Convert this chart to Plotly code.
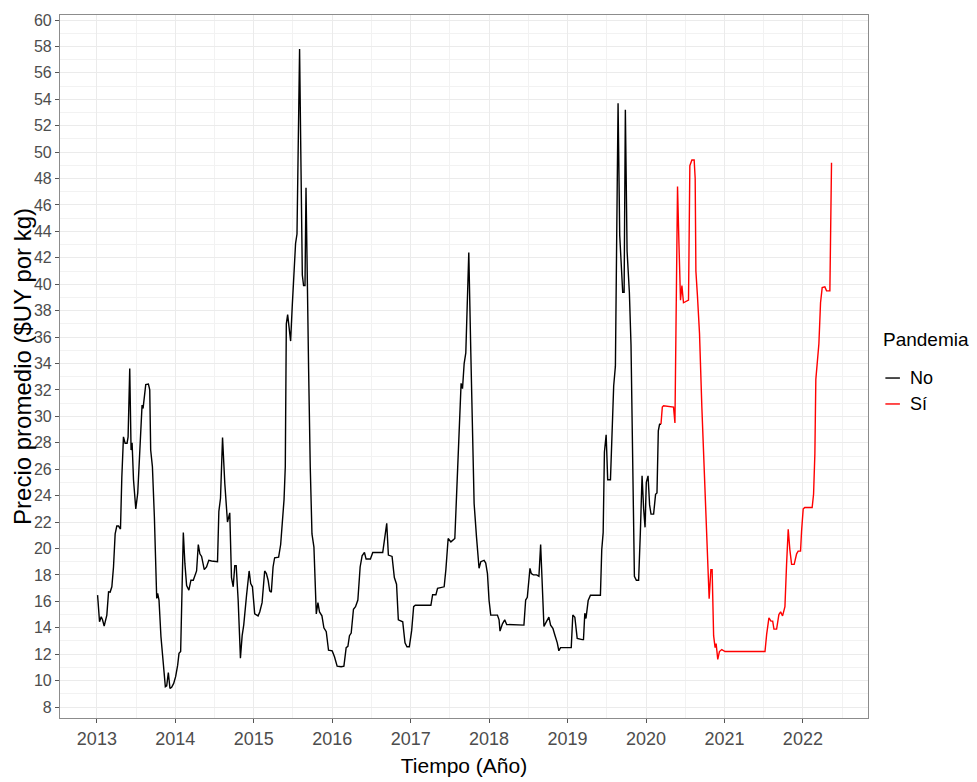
import plotly.graph_objects as go

# Decimal years and average price ($UY per kg)
anio_no = [2013.009, 2013.034, 2013.055, 2013.072, 2013.093, 2013.127, 2013.149, 2013.169, 2013.191, 2013.212,
           2013.233, 2013.254, 2013.276, 2013.301, 2013.318, 2013.339, 2013.360, 2013.385, 2013.398, 2013.419,
           2013.436, 2013.449, 2013.467, 2013.496, 2013.521, 2013.543, 2013.563, 2013.576, 2013.589, 2013.606,
           2013.623, 2013.657, 2013.674, 2013.686, 2013.708, 2013.733, 2013.763, 2013.775, 2013.792, 2013.817,
           2013.848, 2013.873, 2013.890, 2013.911, 2013.932, 2013.953, 2013.979, 2014.004, 2014.030, 2014.047,
           2014.068, 2014.081, 2014.102, 2014.122, 2014.144, 2014.173, 2014.199, 2014.229, 2014.258, 2014.271,
           2014.293, 2014.313, 2014.335, 2014.369, 2014.398, 2014.427, 2014.462, 2014.538, 2014.555, 2014.576,
           2014.602, 2014.631, 2014.665, 2014.694, 2014.716, 2014.738, 2014.758, 2014.776, 2014.801, 2014.830,
           2014.852, 2014.872, 2014.907, 2014.941, 2014.961, 2014.983, 2015.012, 2015.055, 2015.076, 2015.106,
           2015.139, 2015.161, 2015.183, 2015.203, 2015.224, 2015.246, 2015.266, 2015.317, 2015.343, 2015.361,
           2015.386, 2015.402, 2015.415, 2015.432, 2015.453, 2015.470, 2015.491, 2015.513, 2015.533, 2015.551,
           2015.568, 2015.584, 2015.602, 2015.619, 2015.635, 2015.653, 2015.666, 2015.682, 2015.699, 2015.720,
           2015.742, 2015.767, 2015.784, 2015.797, 2015.818, 2015.838, 2015.869, 2015.894, 2015.924, 2015.953,
           2016.000, 2016.029, 2016.063, 2016.114, 2016.149, 2016.178, 2016.200, 2016.220, 2016.242, 2016.271,
           2016.297, 2016.327, 2016.356, 2016.381, 2016.411, 2016.432, 2016.487, 2016.517, 2016.644, 2016.665,
           2016.695, 2016.716, 2016.763, 2016.792, 2016.820, 2016.843, 2016.899, 2016.928, 2016.953, 2016.983,
           2017.013, 2017.038, 2017.059, 2017.258, 2017.280, 2017.322, 2017.343, 2017.427, 2017.449, 2017.478,
           2017.513, 2017.563, 2017.589, 2017.618, 2017.643, 2017.661, 2017.682, 2017.703, 2017.716, 2017.741,
           2017.767, 2017.788, 2017.809, 2017.839, 2017.872, 2017.894, 2017.936, 2017.957, 2017.979, 2017.999,
           2018.021, 2018.106, 2018.127, 2018.139, 2018.170, 2018.199, 2018.224, 2018.444, 2018.466, 2018.487,
           2018.521, 2018.538, 2018.564, 2018.606, 2018.635, 2018.657, 2018.678, 2018.699, 2018.729, 2018.762,
           2018.784, 2018.813, 2018.838, 2018.869, 2018.889, 2018.911, 2019.047, 2019.067, 2019.093, 2019.123,
           2019.187, 2019.203, 2019.220, 2019.235, 2019.263, 2019.292, 2019.419, 2019.436, 2019.454, 2019.470,
           2019.492, 2019.512, 2019.547, 2019.568, 2019.588, 2019.610, 2019.627, 2019.644, 2019.665, 2019.686,
           2019.703, 2019.721, 2019.737, 2019.759, 2019.788, 2019.809, 2019.830, 2019.852, 2019.877, 2019.906,
           2019.928, 2019.950, 2019.970, 2019.988, 2020.004, 2020.026, 2020.046, 2020.064, 2020.097, 2020.122,
           2020.140, 2020.157, 2020.173, 2020.191]
precio_no = [16.47, 14.45, 14.83, 14.6, 14.12, 14.96, 16.72, 16.7, 17.1, 18.6,
             21.1, 21.7, 21.7, 21.47, 25.4, 28.45, 27.97, 27.97, 28.45, 33.63,
             27.45, 28.0, 25.2, 23.0, 24.2, 26.9, 29.7, 30.85, 30.6, 31.74,
             32.4, 32.45, 32.0, 27.45, 26.2, 22.4, 16.22, 16.6, 16.1, 13.32,
             11.05, 9.53, 9.6, 10.6, 9.4, 9.5, 9.79, 10.3, 11.17, 12.06,
             12.2, 16.1, 21.2, 18.87, 17.2, 16.85, 17.6, 17.6, 18.1, 18.3,
             20.3, 19.6, 19.4, 18.4, 18.6, 19.1, 19.05, 19.0, 22.8, 23.8,
             28.4, 24.9, 22.0, 22.7, 17.8, 17.1, 18.7, 18.7, 16.1, 11.7,
             13.4, 14.2, 16.4, 18.3, 17.35, 17.1, 15.05, 14.9, 15.2, 15.9,
             18.3, 18.1, 17.6, 16.8, 16.7, 18.6, 19.3, 19.35, 20.3, 22.0,
             23.7, 26.2, 37.0, 37.7, 36.7, 35.7, 38.4, 41.4, 43.1, 43.8,
             49.9, 57.8, 48.85, 40.7, 39.9, 39.9, 47.3, 38.0, 33.6, 26.2,
             21.1, 20.1, 17.8, 15.05, 15.9, 15.2, 14.9, 14.0, 13.7, 12.3,
             12.25, 11.8, 11.1, 11.05, 11.1, 12.5, 12.6, 13.4, 13.6, 15.4,
             15.6, 16.1, 18.6, 19.45, 19.7, 19.2, 19.2, 19.7, 19.7, 20.5,
             21.9, 19.5, 19.4, 17.8, 17.3, 14.6, 14.45, 12.86, 12.56, 12.56,
             13.8, 15.6, 15.7, 15.7, 16.5, 16.5, 16.98, 17.1, 18.4, 20.76,
             20.5, 20.76, 24.67, 28.2, 32.5, 32.1, 34.0, 34.8, 37.3, 42.4,
             34.8, 28.5, 23.4, 20.9, 18.5, 19.0, 19.1, 18.9, 18.1, 16.1,
             14.96, 14.96, 14.6, 13.75, 14.3, 14.6, 14.25, 14.2, 16.1, 16.3,
             18.5, 18.1, 18.0, 18.0, 17.9, 20.3, 17.6, 14.1, 14.45, 14.8,
             14.2, 13.95, 13.45, 12.86, 12.26, 12.5, 12.5, 14.96, 14.8, 13.2,
             13.1, 13.1, 15.1, 14.7, 16.06, 16.46, 16.46, 19.9, 21.2, 27.3,
             28.6, 25.2, 25.2, 29.8, 32.3, 33.8, 43.1, 53.7, 43.7, 40.9,
             39.4, 39.4, 53.2, 42.5, 39.4, 35.4, 27.6, 17.9, 17.6, 17.6,
             21.2, 25.5, 23.0, 21.6, 25.0, 25.5, 23.3, 22.6, 22.6, 24.1,
             24.2, 28.9, 29.4, 29.4]

anio_si = [2020.191, 2020.208, 2020.224, 2020.351, 2020.369, 2020.385, 2020.402, 2020.420, 2020.440, 2020.458,
           2020.478, 2020.542, 2020.559, 2020.585, 2020.614, 2020.627, 2020.636, 2020.656, 2020.682, 2020.712,
           2020.741, 2020.776, 2020.805, 2020.827, 2020.843, 2020.862, 2020.881, 2020.894, 2020.915, 2020.936,
           2020.966, 2021.008, 2021.517, 2021.538, 2021.567, 2021.593, 2021.615, 2021.631, 2021.665, 2021.694,
           2021.716, 2021.741, 2021.771, 2021.792, 2021.813, 2021.834, 2021.856, 2021.889, 2021.920, 2021.940,
           2021.970, 2021.983, 2022.004, 2022.025, 2022.118, 2022.136, 2022.153, 2022.165, 2022.182, 2022.204,
           2022.225, 2022.246, 2022.280, 2022.302, 2022.344, 2022.365]
precio_si = [29.4, 30.7, 30.8, 30.7, 29.5, 38.2, 47.4, 43.1, 38.8, 39.9,
             38.6, 38.8, 48.97, 49.4, 49.4, 48.0, 41.0, 39.1, 36.3, 30.7,
             26.1, 20.5, 16.2, 18.4, 18.4, 13.4, 12.5, 12.8, 11.6, 12.2,
             12.35, 12.2, 12.2, 13.5, 14.75, 14.5, 14.5, 13.9, 13.9, 15.0,
             15.2, 14.9, 15.6, 18.8, 21.45, 19.9, 18.8, 18.8, 19.6, 19.8,
             19.8, 21.3, 23.0, 23.1, 23.1, 24.1, 27.2, 32.8, 34.2, 35.5,
             38.6, 39.75, 39.8, 39.5, 39.5, 49.2]

x_ticks = list(range(2013, 2023))
y_ticks = list(range(8, 61, 2))

series_names = ["No", "Sí"]
series_colors = ["#000000", "#FF0000"]

FONT = "Liberation Sans, Arial, sans-serif"

fig = go.Figure()
fig.add_trace(go.Scatter(x=anio_no, y=precio_no, mode="lines", name=series_names[0],
                         line=dict(color=series_colors[0], width=1.4)))
fig.add_trace(go.Scatter(x=anio_si, y=precio_si, mode="lines", name=series_names[1],
                         line=dict(color=series_colors[1], width=1.4)))

axis_common = dict(
    showgrid=True, gridcolor="#EBEBEB", gridwidth=1.1,
    showline=True, linecolor="#8C8C8C", linewidth=1.2, mirror=True,
    ticks="outside", ticklen=4, tickcolor="#555555", tickwidth=1,
    zeroline=False, automargin=False,
)

annots = [
    # y-axis title
    dict(text="Precio promedio ($UY por kg)", x=-0.0465, y=0.5, xref="paper", yref="paper",
         xanchor="center", yanchor="middle", textangle=-90, showarrow=False, borderpad=0,
         font=dict(family=FONT, size=24, color="#000000")),
    # ggplot-style legend title
    dict(text="Pandemia", x=1.016, y=0.538, xref="paper", yref="paper",
         xanchor="left", yanchor="middle", showarrow=False,
         font=dict(family=FONT, size=19, color="#000000")),
]
shapes = []
key_y = [0.4836, 0.4467]
for name, col, ky in zip(series_names, series_colors, key_y):
    annots.append(dict(text=name, x=1.050, y=ky, xref="paper", yref="paper",
                       xanchor="left", yanchor="middle", showarrow=False,
                       font=dict(family=FONT, size=18, color="#000000")))
    shapes.append(dict(type="line", xref="paper", yref="paper",
                       x0=1.0215, x1=1.0395, y0=ky, y1=ky,
                       line=dict(color=col, width=1.4)))

fig.update_layout(
    width=961, height=774,
    paper_bgcolor="white", plot_bgcolor="white",
    margin=dict(l=52, r=101, t=7, b=64),
    xaxis=dict(**axis_common, range=[2012.53, 2022.83], tickmode="array",
               tickvals=x_ticks, ticktext=[str(v) for v in x_ticks],
               tickfont=dict(family=FONT, size=18, color="#4D4D4D"),
               minor=dict(dtick=0.5, tick0=2012.5, showgrid=True, gridcolor="#F2F2F2", gridwidth=0.8, ticks=""),
               title=dict(text="Tiempo (Año)", font=dict(family=FONT, size=21, color="#000000"), standoff=10)),
    yaxis=dict(**axis_common, range=[7.17, 60.38], tickmode="array",
               tickvals=y_ticks, ticktext=[str(v) for v in y_ticks],
               tickfont=dict(family=FONT, size=16, color="#4D4D4D"),
               minor=dict(dtick=1, tick0=7, showgrid=True, gridcolor="#F2F2F2", gridwidth=0.8, ticks="")),
    showlegend=False,
    annotations=annots,
    shapes=shapes,
)

fig.write_html("out.html")
